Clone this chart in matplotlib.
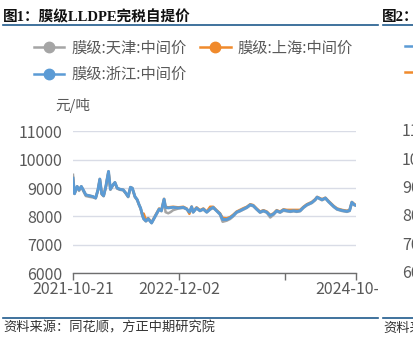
import matplotlib.pyplot as plt
from matplotlib.lines import Line2D
from matplotlib.transforms import Bbox, TransformedBbox

plt.rcParams['font.family'] = ['Noto Sans CJK SC', 'DejaVu Sans']

# 交易日序号（自2021-10-21起）与价格，元/吨
days = [0, 4, 11, 16, 22, 27, 34, 44, 53, 60, 66, 71, 76, 81, 87, 90, 94, 99, 106, 111,
        117, 124, 133, 140, 146, 152, 157, 164, 170, 175, 179, 184, 187, 193, 199, 208, 214, 221, 228, 234,
        241, 245, 252, 258, 265, 279, 292, 301, 308, 314, 318, 327, 336, 345, 354, 363, 371, 380, 389, 396,
        407, 416, 424, 433, 442, 451, 460, 469, 477, 486, 495, 504, 513, 522, 531, 539, 548, 557, 566, 575,
        584, 592, 601, 610, 619, 632, 641, 646, 659, 668, 676, 690, 699, 712, 725, 732, 738, 745, 749]

zhejiang = [9350, 8800, 9060, 8940, 9060, 8940, 8760, 8730, 8700, 8650, 8940, 9320, 8800, 8730, 9060, 9300, 9590, 8960, 9120, 9200,
            9000, 8960, 8940, 8820, 8700, 9030, 9000, 8700, 8590, 8410, 8290, 8030, 7920, 7840, 7920, 7770, 7920, 8090, 8260, 8200,
            8610, 8320, 8300, 8310, 8320, 8300, 8320, 8260, 8150, 8340, 8150, 8300, 8200, 8260, 8150, 8260, 8320, 8200, 8090, 7890,
            7890, 7950, 8030, 8150, 8200, 8260, 8320, 8410, 8380, 8260, 8150, 8200, 8150, 8030, 8090, 8200, 8150, 8230, 8200, 8180,
            8200, 8180, 8200, 8320, 8410, 8490, 8590, 8680, 8590, 8650, 8530, 8350, 8260, 8210, 8180, 8210, 8500, 8410, 8390]

tianjin = [9470, 8820, 9040, 8900, 9040, 8900, 8720, 8690, 8670, 8640, 8920, 9300, 8780, 8710, 9040, 9280, 9570, 8940, 9100, 9180,
           8980, 8940, 8920, 8800, 8680, 9010, 8980, 8680, 8570, 8390, 8270, 8010, 7900, 7820, 7900, 7760, 7900, 8070, 8240, 8180,
           8560, 8150, 8110, 8150, 8220, 8280, 8300, 8250, 8140, 8320, 8140, 8280, 8190, 8240, 8140, 8240, 8300, 8190, 8060, 7810,
           7850, 7910, 8000, 8130, 8180, 8240, 8300, 8390, 8360, 8240, 8130, 8180, 8130, 7960, 8060, 8180, 8130, 8200, 8180, 8160,
           8180, 8160, 8180, 8300, 8390, 8470, 8570, 8660, 8570, 8630, 8510, 8330, 8240, 8190, 8160, 8190, 8470, 8390, 8380]

shanghai = [9350, 8800, 9060, 8940, 9060, 8940, 8760, 8730, 8700, 8650, 8940, 9320, 8800, 8730, 9060, 9300, 9590, 8960, 9120, 9200,
            9000, 8960, 8940, 8820, 8700, 9030, 9000, 8700, 8590, 8410, 8290, 8030, 8100, 7880, 7940, 7790, 7940, 8110, 8280, 8220,
            8620, 8340, 8320, 8330, 8340, 8320, 8340, 8280, 8090, 8350, 8170, 8320, 8220, 8280, 8170, 8340, 8340, 8220, 8110, 7950,
            7930, 7980, 8060, 8170, 8230, 8290, 8340, 8430, 8400, 8280, 8170, 8220, 8170, 8050, 8110, 8220, 8170, 8250, 8230, 8230,
            8230, 8230, 8230, 8340, 8430, 8510, 8610, 8690, 8610, 8660, 8550, 8370, 8280, 8230, 8200, 8230, 8510, 8430, 8400]

tick_days = [0, 280, 560, 749]
tick_labels = ['2021-10-21', '2022-12-02', '', '2024-10-21']

c_gray = '#a5a5a5'
c_orange = '#f08a2c'
c_blue = '#5b9bd5'
c_text = '#595959'

fig = plt.figure(figsize=(4.13, 3.5), dpi=100)
ax = fig.add_axes([73 / 413, 1 - 273 / 350, 283 / 413, 141.5 / 350])

ax.plot(days, tianjin, color=c_gray, lw=1.8, solid_joinstyle='round')
ax.plot(days, shanghai, color=c_orange, lw=1.8, solid_joinstyle='round')
ax.plot(days, zhejiang, color=c_blue, lw=2.1, solid_joinstyle='round')

ax.set_xlim(0, 749)
ax.set_ylim(6000, 11000)
ax.set_yticks([6000, 7000, 8000, 9000, 10000, 11000])
ax.grid(axis='y', color='#d9dce6', lw=1.0)
ax.set_axisbelow(True)
for s in ['top', 'right', 'left']:
    ax.spines[s].set_visible(False)
ax.spines['bottom'].set_color('#6e6e6e')
ax.spines['bottom'].set_linewidth(1.0)
ax.tick_params(axis='y', length=0, pad=7.5, labelsize=11.5, labelcolor=c_text)
ax.set_xticks(tick_days)
ax.set_xticklabels([])
ax.tick_params(axis='x', length=5, width=1.0, color='#6e6e6e', direction='out')

# 日期标签，右侧被相邻图表截断
clip = TransformedBbox(Bbox([[0, 0], [378 / 413, 1]]), fig.transFigure)
for d, lab in zip(tick_days, tick_labels):
    t = ax.text(d, -0.12, lab, transform=ax.get_xaxis_transform(), ha='center', va='center',
                fontsize=11.5, color=c_text)
    t.set_clip_on(True)
    t.set_clip_box(clip)

fig.text(55 / 413, 1 - 105 / 350, '元/吨', fontsize=10.5, color=c_text, va='center')

handles = [
    Line2D([], [], color=c_gray, lw=1.8, marker='o', markersize=7.5),
    Line2D([], [], color=c_blue, lw=1.8, marker='o', markersize=7.5),
    Line2D([], [], color=c_orange, lw=1.8, marker='o', markersize=7.5),
]
labels = ['膜级:天津:中间价', '膜级:浙江:中间价', '膜级:上海:中间价']
fig.legend(handles, labels, loc='upper left', bbox_to_anchor=(20 / 413, 1 - 26 / 350), ncol=2,
           frameon=False, fontsize=11, handlelength=2.0, handletextpad=0.45, columnspacing=0.9,
           labelspacing=0.62, labelcolor=c_text)

# 标题与来源
fig.text(3 / 413, 1 - 17 / 350, '图1：膜级LLDPE完税自提价', fontsize=10.5, fontweight='bold',
         family=['Liberation Serif', 'Noto Sans CJK SC'], va='center', color='#111111')
fig.text(382 / 413, 1 - 17 / 350, '图2：', fontsize=10.5, fontweight='bold',
         family=['Liberation Serif', 'Noto Sans CJK SC'], va='center', color='#111111')
fig.add_artist(Line2D([3 / 413, 378 / 413], [1 - 25 / 350] * 2, color='#1f5a8c', lw=1.2))
fig.add_artist(Line2D([383 / 413, 1], [1 - 25 / 350] * 2, color='#1f5a8c', lw=1.2))
fig.add_artist(Line2D([3 / 413, 378 / 413], [1 - 318 / 350] * 2, color='#1f5a8c', lw=1.2))
fig.add_artist(Line2D([383 / 413, 1], [1 - 318 / 350] * 2, color='#1f5a8c', lw=1.2))
fig.text(3 / 413, 1 - 328 / 350, '资料来源：同花顺，方正中期研究院', fontsize=9.5, color='#333333', va='center')
fig.text(383 / 413, 1 - 328 / 350, '资料来源', fontsize=9.5, color='#333333', va='center')

# 相邻图表的局部
for v, yp in zip(['11000', '10000', '9000', '8000', '7000', '6000'], [131.7, 160.7, 188.3, 216.7, 245, 273]):
    fig.text(402 / 413, 1 - yp / 350, v, fontsize=11.5, color=c_text, va='center')
fig.add_artist(Line2D([405 / 413, 1], [1 - 46 / 350] * 2, color=c_blue, lw=1.8))
fig.add_artist(Line2D([405 / 413, 1], [1 - 72 / 350] * 2, color=c_orange, lw=1.8))

fig.savefig('out.png', dpi=100)
